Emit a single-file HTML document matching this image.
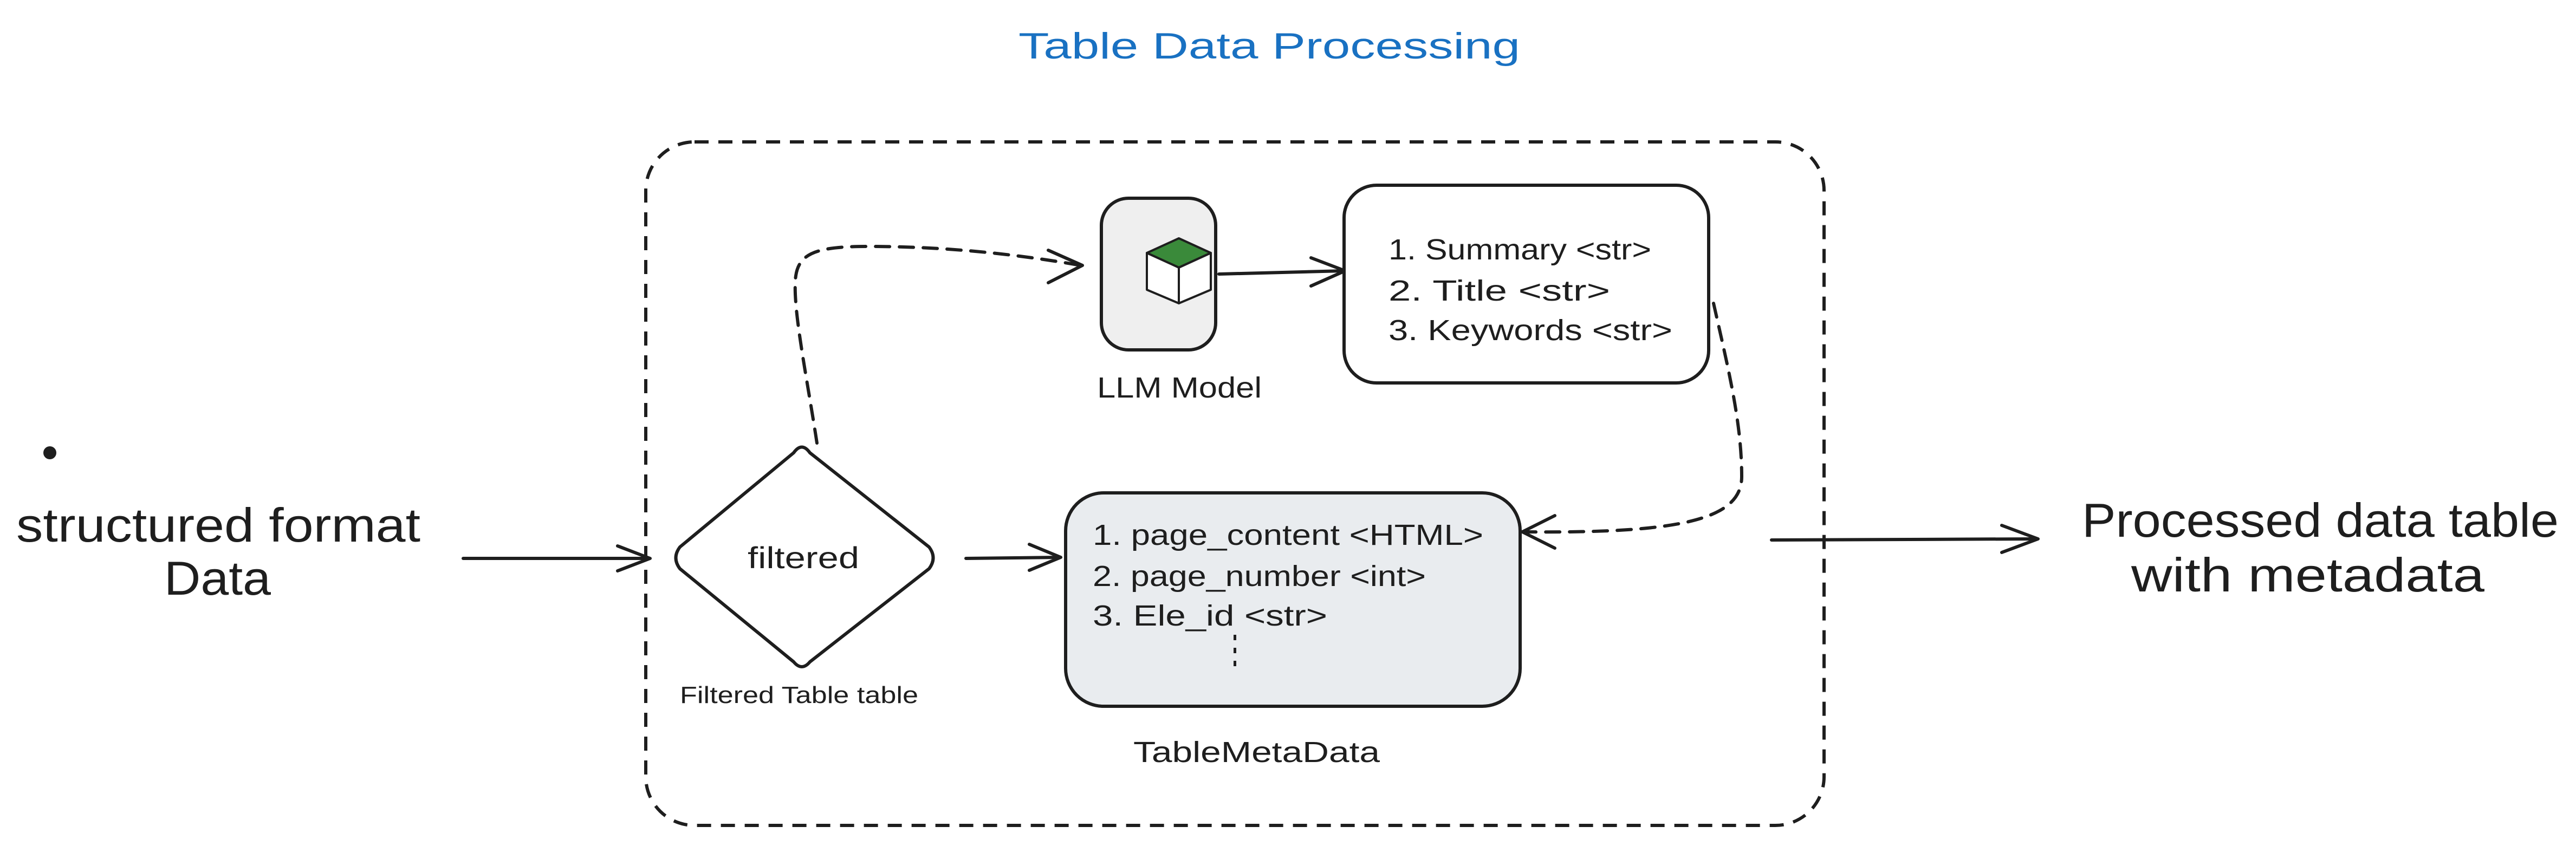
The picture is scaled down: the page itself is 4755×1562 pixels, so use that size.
<!DOCTYPE html>
<html><head><meta charset="utf-8"><style>html,body{margin:0;padding:0;background:#fff;}svg{display:block;}</style></head>
<body>
<svg width="4755" height="1562" viewBox="0 0 4755 1562" xmlns="http://www.w3.org/2000/svg" font-family="'Liberation Sans', 'DejaVu Sans', sans-serif" fill="#1e1e1e">
<rect width="4755" height="1562" fill="#fff"/>
<text x="1880" y="108" font-size="68" fill="#1971c2" textLength="926" lengthAdjust="spacingAndGlyphs">Table Data Processing</text>
<rect x="1192" y="262" width="2175" height="1262" rx="90" fill="none" stroke="#1e1e1e" stroke-width="6" stroke-dasharray="26 18"/>
<circle cx="92" cy="836" r="12" fill="#1e1e1e"/>
<text x="30" y="1000" font-size="88" textLength="746" lengthAdjust="spacingAndGlyphs">structured format</text>
<text x="303" y="1098" font-size="88" textLength="197" lengthAdjust="spacingAndGlyphs">Data</text>
<text x="3843" y="991" font-size="88" textLength="880" lengthAdjust="spacingAndGlyphs">Processed data table</text>
<text x="3934" y="1092" font-size="88" textLength="652" lengthAdjust="spacingAndGlyphs">with metadata</text>
<g stroke="#1e1e1e" stroke-width="6" fill="none" stroke-linecap="round" stroke-linejoin="round">
<path d="M855 1031 L1198 1031"/>
<path d="M1140 1008 L1200 1031 L1140 1054"/>
<path d="M1783 1031 L1956 1029"/>
<path d="M1900 1005 L1958 1029 L1900 1053"/>
<path d="M3270 997 L3760 995"/>
<path d="M3695 970 L3762 995 L3695 1020"/>
<path d="M2250 506 L2481 500"/>
<path d="M2420 476 L2483 500 L2420 528"/>
<path d="M1508 818 C1490 700 1465 580 1468 520 C1470 470 1500 455 1600 455 C1750 455 1880 470 1995 490" stroke-dasharray="26 18"/>
<path d="M1935 462 L1998 490 L1935 522"/>
<path d="M3163 560 C3190 680 3215 780 3215 880 C3215 960 3100 985 2812 982" stroke-dasharray="26 18"/>
<path d="M2870 952 L2810 982 L2870 1012"/>
</g>
<rect x="2033" y="366" width="211" height="280" rx="50" fill="#efefef" stroke="#1e1e1e" stroke-width="6"/>
<g stroke="#1e1e1e" stroke-width="4" stroke-linejoin="round">
<path d="M2117 467 L2176 440 L2235 467 L2176 494 Z" fill="#3a8a3a"/>
<path d="M2117 467 L2176 494 L2176 560 L2117 535 Z" fill="#fff"/>
<path d="M2176 494 L2235 467 L2235 535 L2176 560 Z" fill="#fff"/>
</g>
<text x="2025" y="734" font-size="54" textLength="304" lengthAdjust="spacingAndGlyphs">LLM Model</text>
<rect x="2481" y="342" width="673" height="365" rx="60" fill="#fff" stroke="#1e1e1e" stroke-width="6"/>
<text x="2563" y="479" font-size="54" textLength="485" lengthAdjust="spacingAndGlyphs">1. Summary &lt;str&gt;</text>
<text x="2563" y="555" font-size="54" textLength="409" lengthAdjust="spacingAndGlyphs">2. Title &lt;str&gt;</text>
<text x="2563" y="628" font-size="54" textLength="524" lengthAdjust="spacingAndGlyphs">3. Keywords &lt;str&gt;</text>
<path d="M1465 836 Q1480 815 1495 836 L1715 1010 Q1730 1030 1715 1050 L1495 1222 Q1480 1240 1465 1222 L1255 1050 Q1240 1030 1255 1010 Z" fill="#fff" stroke="#1e1e1e" stroke-width="6" stroke-linejoin="round"/>
<text x="1380" y="1049" font-size="56" textLength="206" lengthAdjust="spacingAndGlyphs">filtered</text>
<text x="1255" y="1298" font-size="44" textLength="440" lengthAdjust="spacingAndGlyphs">Filtered Table table</text>
<rect x="1967" y="910" width="839" height="394" rx="70" fill="#e9ecef" stroke="#1e1e1e" stroke-width="6"/>
<text x="2017" y="1006" font-size="54" textLength="721" lengthAdjust="spacingAndGlyphs">1. page_content &lt;HTML&gt;</text>
<text x="2017" y="1082" font-size="54" textLength="615" lengthAdjust="spacingAndGlyphs">2. page_number &lt;int&gt;</text>
<text x="2017" y="1155" font-size="54" textLength="433" lengthAdjust="spacingAndGlyphs">3. Ele_id &lt;str&gt;</text>
<g fill="#1e1e1e"><rect x="2277" y="1172" width="5" height="10"/><rect x="2277" y="1196" width="5" height="10"/><rect x="2277" y="1220" width="5" height="10"/></g>
<text x="2092" y="1407" font-size="54" textLength="455" lengthAdjust="spacingAndGlyphs">TableMetaData</text>
</svg>
</body></html>
